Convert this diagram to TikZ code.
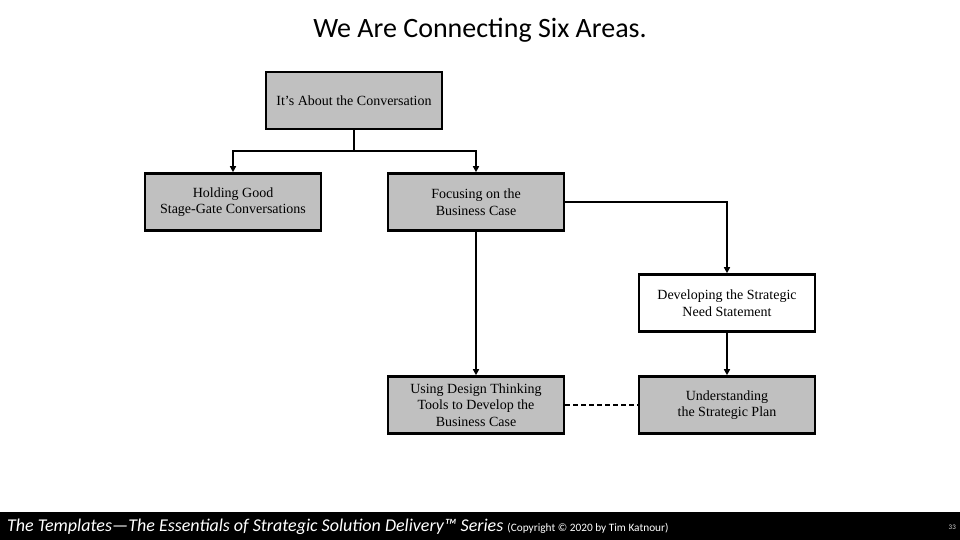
\documentclass[tikz,border=0pt]{standalone}
\usepackage{fontspec}
\setmainfont{Liberation Serif}
\newfontfamily\calib{Carlito}
\usetikzlibrary{arrows.meta}
\definecolor{boxgray}{RGB}{192,192,192}
\tikzset{
  box/.style={draw=black, line width=2.6pt, fill=boxgray, minimum width=176pt, minimum height=57pt, align=center, inner sep=0pt, font=\fontsize{14}{16.5}\selectfont},
  whitebox/.style={box, fill=white},
  conn/.style={line width=1.6pt, -{Triangle[length=6pt,width=6pt]}},
  plain/.style={line width=1.6pt},
  dashconn/.style={line width=1.6pt, dashed, dash pattern=on 5pt off 3pt}
}
\begin{document}
\begin{tikzpicture}[x=1pt,y=-1pt]
\useasboundingbox (0,0) rectangle (960,540);
\node[font=\calib\fontsize{28}{32}\selectfont] (title) at (480,30) {We Are Connecting Six Areas.};
\node[box] (top) at (354,100.5) {It's About the Conversation};
\node[box] (hold) at (233,202) {Holding Good\\Stage-Gate Conversations};
\node[box] (focus) at (476,202) {Focusing on the\\Business Case};
\node[whitebox] (dev) at (727,303) {Developing the Strategic\\Need Statement};
\node[box] (using) at (476,405) {Using Design Thinking\\Tools to Develop the\\Business Case};
\node[box] (under) at (727,405) {Understanding\\the Strategic Plan};
\coordinate (split) at (354,151);
\draw[plain] (top.south) -- (split);
\draw[conn] (split) -| (hold.north);
\draw[conn] (split) -| (focus.north);
\draw[conn] (focus.east) -| (dev.north);
\draw[conn] (focus.south) -- (using.north);
\draw[conn] (dev.south) -- (under.north);
\draw[dashconn] (using.east) -- (under.west);
\fill[black] (0,512) rectangle (960,540);
\node[anchor=base west, inner sep=0pt, text=white] (foot) at (7,531) {\calib\itshape\fontsize{18}{20}\selectfont The Templates\textemdash The Essentials of Strategic Solution Delivery\texttrademark\ Series \upshape\fontsize{11.3}{13}\selectfont (Copyright \textcopyright\ 2020 by Tim Katnour)};
\node[anchor=base east, inner sep=0pt, text=white!85!black, font=\calib\fontsize{7}{8}\selectfont] (pg) at (956,529) {33};
\end{tikzpicture}
\end{document}
